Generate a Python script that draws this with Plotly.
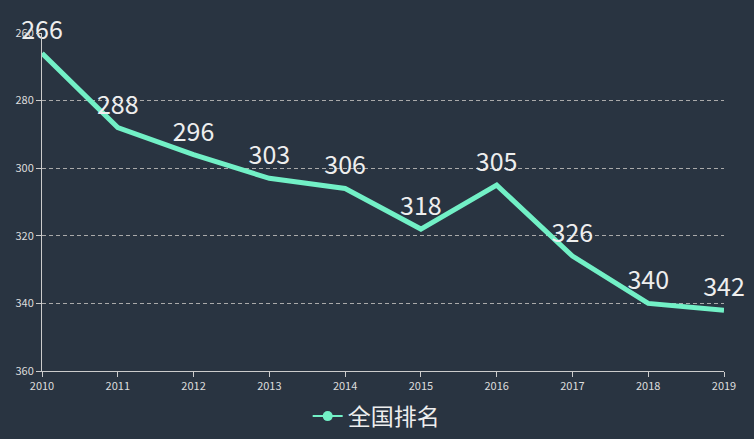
import plotly.graph_objects as go

years = ["2010", "2011", "2012", "2013", "2014", "2015", "2016", "2017", "2018", "2019"]
ranks = [266, 288, 296, 303, 306, 318, 305, 326, 340, 342]
series_name = "全国排名"
y_ticks = [260, 280, 300, 320, 340, 360]

bg = "#293441"
line_color = "#72f0c6"
font_family = "Noto Sans CJK SC, Open Sans, sans-serif"

fig = go.Figure()
fig.add_trace(go.Scatter(
    x=years, y=ranks, mode="lines+markers+text",
    text=[str(v) for v in ranks], textposition="top center",
    textfont=dict(size=25, color="#eeeeee", family=font_family),
    line=dict(color=line_color, width=5),
    marker=dict(size=11, color="rgba(0,0,0,0)"),
    showlegend=False, cliponaxis=False, hoverinfo="skip",
))
fig.add_trace(go.Scatter(
    x=[None], y=[None], mode="lines+markers", name=series_name,
    line=dict(color=line_color, width=2),
    marker=dict(size=10, color=line_color),
))

fig.update_layout(
    width=754, height=439,
    paper_bgcolor=bg, plot_bgcolor=bg,
    margin=dict(l=42, r=30, t=33, b=68, autoexpand=False),
    font=dict(family=font_family, color="#dddddd"),
    legend=dict(orientation="h", x=0.49, xanchor="center",
                yref="container", y=0.052, yanchor="middle",
                font=dict(size=23, color="#eeeeee"), itemwidth=30),
)
fig.update_xaxes(
    type="category", range=[0, 9], showgrid=False,
    showline=True, linecolor="#cccccc", linewidth=1,
    ticks="outside", ticklen=5, tickcolor="#cccccc",
    tickfont=dict(size=11, color="#dddddd"), zeroline=False,
)
fig.update_yaxes(
    range=[360, 260], tickvals=y_ticks,
    showgrid=True, gridcolor="#aaaaaa", griddash="4px,3px", gridwidth=1,
    showline=True, linecolor="#cccccc", linewidth=1,
    ticks="outside", ticklen=5, tickcolor="#cccccc",
    tickfont=dict(size=11, color="#dddddd"), zeroline=False,
)

fig.write_html("out.html", config={"displayModeBar": False},
               post_script="document.body.style.margin='0';document.body.style.background='%s';" % bg)
